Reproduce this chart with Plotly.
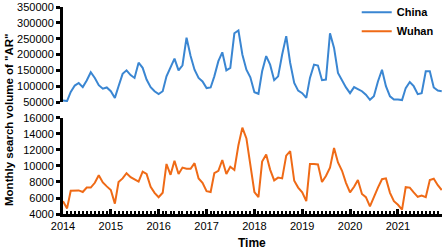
import plotly.graph_objects as go
import pandas as pd

months = pd.date_range("2014-01-01", periods=96, freq="MS")

china = [55000, 53000, 82000, 102000, 110000, 97000, 118000, 144000, 126000, 103000, 92000, 96000,
         84000, 63000, 100000, 139000, 150000, 135000, 126000, 174000, 158000, 121000, 97000, 84000,
         75000, 84000, 131000, 161000, 187000, 150000, 166000, 253000, 195000, 152000, 126000, 115000,
         94000, 96000, 131000, 179000, 207000, 150000, 158000, 267000, 276000, 200000, 152000, 128000,
         81000, 76000, 147000, 195000, 168000, 119000, 131000, 200000, 258000, 174000, 110000, 86000,
         78000, 63000, 126000, 168000, 165000, 119000, 121000, 267000, 221000, 142000, 119000, 96000,
         78000, 97000, 91000, 84000, 73000, 57000, 68000, 115000, 152000, 100000, 68000, 58000,
         58000, 56000, 94000, 113000, 100000, 75000, 78000, 147000, 147000, 96000, 86000, 84000]

wuhan = [5600, 4700, 6900, 6950, 6950, 6750, 7300, 7300, 7900, 8850, 7950, 7450,
         7000, 5300, 8000, 8450, 9100, 8600, 8350, 8050, 9300, 9000, 7400, 6650,
         6100, 6650, 10250, 8900, 10650, 9000, 9800, 9650, 9650, 10350, 8450, 7900,
         6850, 6750, 9100, 9400, 10750, 9000, 9900, 9500, 12600, 14800, 13450, 10050,
         6750, 6100, 10550, 11450, 9550, 8200, 8550, 8450, 11300, 11850, 8150, 7300,
         6700, 5600, 10250, 10250, 10200, 8000, 8750, 9800, 12250, 10450, 9400, 7900,
         6700, 7400, 8250, 6500, 6100, 4950, 6200, 7300, 8350, 8450, 6650, 5600,
         5150, 4550, 7350, 7300, 6700, 6150, 6300, 6100, 8250, 8400, 7600, 7000]

year_ticks = ["2014-01-01", "2015-01-01", "2016-01-01", "2017-01-01",
              "2018-01-01", "2019-01-01", "2020-01-01", "2021-01-01"]
year_labels = ["2014", "2015", "2016", "2017", "2018", "2019", "2020", "2021"]

blue = "#3a86d2"
orange = "#ef6a16"
font_family = "Arial, Liberation Sans, sans-serif"

fig = go.Figure()
fig.add_trace(go.Scatter(x=months, y=china, mode="lines", name="China",
                         line=dict(color=blue, width=2), xaxis="x", yaxis="y"))
fig.add_trace(go.Scatter(x=months, y=wuhan, mode="lines", name="Wuhan",
                         line=dict(color=orange, width=2), xaxis="x2", yaxis="y2"))

xrange = ["2014-01-01", "2021-12-03"]
axis_common = dict(showgrid=False, zeroline=False, showline=True, linecolor="black",
                   linewidth=3, automargin=False,
                   tickfont=dict(family=font_family, size=11, color="black"))

fig.update_layout(
    width=447, height=252,
    margin=dict(l=63, r=5, t=7, b=38, autoexpand=False),
    paper_bgcolor="white", plot_bgcolor="white",
    font=dict(family=font_family, color="black"),
    showlegend=True,
    legend=dict(x=0.775, y=1.045, xanchor="left", yanchor="top",
                font=dict(family=font_family, size=11, color="black", weight="bold"),
                bgcolor="rgba(0,0,0,0)", tracegroupgap=0),
    xaxis=dict(domain=[0, 1], anchor="y", range=xrange, visible=False),
    yaxis=dict(domain=[0.541, 1], anchor="x", range=[50000, 350000],
               tickvals=[50000, 100000, 150000, 200000, 250000, 300000, 350000],
               tickformat="d", ticks="outside", ticklen=4, tickwidth=3, tickcolor="black",
               **axis_common),
    xaxis2=dict(domain=[0, 1], anchor="y2", range=xrange, type="date",
                tickvals=year_ticks, ticktext=year_labels,
                ticks="inside", ticklen=5, tickwidth=3, tickcolor="black",
                minor=dict(dtick="M1", ticks="inside", ticklen=3, tickwidth=1.5, tickcolor="black"),
                **axis_common),
    yaxis2=dict(domain=[0, 0.4638], anchor="x2", range=[4000, 16000],
                tickvals=[4000, 6000, 8000, 10000, 12000, 14000, 16000],
                tickformat="d", ticks="outside", ticklen=4, tickwidth=3, tickcolor="black",
                **axis_common),
)

fig.add_annotation(text='<b>Monthly search volume of "AR"</b>', textangle=-90,
                   xref="paper", yref="paper", x=-0.142, y=0.455,
                   xanchor="center", yanchor="middle", showarrow=False,
                   font=dict(family=font_family, size=11.5, color="black"))
fig.add_annotation(text="<b>Time</b>", xref="paper", yref="paper", x=0.499, y=-0.14,
                   xanchor="center", yanchor="middle", showarrow=False,
                   font=dict(family=font_family, size=12, color="black"))

fig.write_html("out.html", config={"displayModeBar": False},
               post_script="document.body.style.margin='0px';")
